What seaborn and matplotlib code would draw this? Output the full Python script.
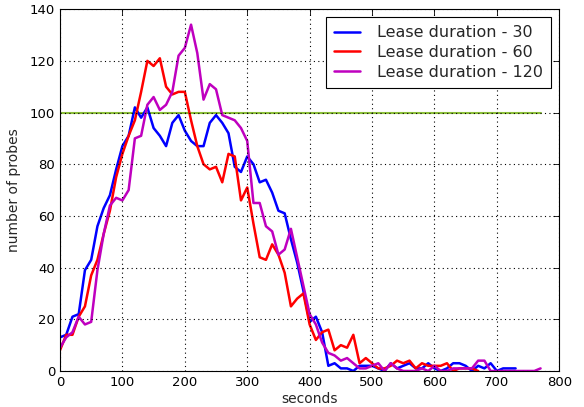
import numpy as np
import pandas as pd
import matplotlib
matplotlib.use("Agg")
import matplotlib.pyplot as plt
import seaborn as sns

# ---------------------------------------------------
# Daten (Schritt 10 s)
# ---------------------------------------------------
lease_30 = [13, 14, 21, 22, 39, 43, 56, 63, 68, 78,
            87, 91, 102, 98, 102, 94, 91, 87, 96, 99,
            93, 89, 87, 87, 96, 99, 96, 92, 79, 77,
            83, 80, 73, 74, 69, 62, 61, 51, 42, 31,
            19, 21, 15, 2, 3, 1, 1, 0, 2, 2,
            2, 1, 0, 3, 1, 2, 3, 1, 1, 3,
            1, 0, 1, 3, 3, 2, 0, 2, 1, 3,
            0, 1, 1, 1]
lease_60 = [8, 14, 14, 21, 25, 37, 43, 53, 62, 75,
            84, 91, 97, 108, 120, 118, 121, 110, 107, 108,
            108, 97, 87, 80, 78, 79, 73, 84, 83, 66,
            71, 57, 44, 43, 49, 45, 38, 25, 28, 30,
            18, 12, 15, 16, 8, 10, 9, 14, 3, 5,
            3, 1, 1, 2, 4, 3, 4, 1, 3, 2,
            2, 2, 3, 0, 1, 1, 1, 0]
lease_120 = [9, 13, 15, 21, 18, 19, 39, 53, 64, 67,
             66, 70, 90, 91, 103, 106, 101, 103, 108, 122,
             125, 134, 123, 105, 111, 109, 99, 98, 97, 94,
             89, 65, 65, 56, 54, 45, 47, 55, 44, 33,
             22, 18, 11, 7, 6, 4, 5, 3, 1, 1,
             2, 3, 0, 3, 1, 0, 0, 0, 1, 0,
             2, 0, 0, 1, 1, 1, 1, 4, 4, 0,
             0, 0, 0, 0, 0, 0, 0, 1]
series_names = ["Lease duration - 30", "Lease duration - 60", "Lease duration - 120"]
series_colors = ["#0000ff", "#ff0000", "#bf00bf"]
step = 10
threshold = 100

frames = []
for name, vals in zip(series_names, [lease_30, lease_60, lease_120]):
    frames.append(pd.DataFrame({
        "seconds": np.arange(len(vals)) * step,
        "probes": vals,
        "series": name,
    }))
df = pd.concat(frames, ignore_index=True)

# ---------------------------------------------------
# Plot
# ---------------------------------------------------
sns.set_style("white")
plt.rcParams["font.family"] = ["DejaVu Sans"]

fig = plt.figure(figsize=(5.84, 4.07), dpi=100)
ax = fig.add_axes([0.1027, 0.0885, 0.855, 0.889])

sns.lineplot(data=df, x="seconds", y="probes", hue="series",
             palette=dict(zip(series_names, series_colors)),
             linewidth=1.8, ax=ax, legend=False, zorder=2)

x_max = (len(lease_120) - 1) * step
ax.plot([0, x_max], [threshold, threshold], color="#8cbf3a", linewidth=1.5, zorder=1.5)

ax.set_xlim(0, 800)
ax.set_ylim(0, 140)
ax.set_xticks(range(0, 801, 100))
ax.set_yticks(range(0, 141, 20))
ax.grid(True, linestyle=(0, (1, 3)), color="black", linewidth=0.8)
ax.set_axisbelow(False)
ax.tick_params(direction="in", length=4, width=0.6, top=True, right=True,
               labelsize=9.5, colors="black")
for sp in ax.spines.values():
    sp.set_color("black")
    sp.set_linewidth(0.8)

ax.set_xlabel("seconds", fontsize=10, labelpad=2)
ax.set_ylabel("number of probes", fontsize=10, labelpad=6)

handles = [plt.Line2D([], [], color=c, linewidth=1.8) for c in series_colors]
leg = ax.legend(handles, series_names, loc="upper right", fontsize=11.5,
                handlelength=1.6, handletextpad=1.1, borderpad=0.5,
                labelspacing=0.3, fancybox=False, framealpha=1,
                edgecolor="black", borderaxespad=0.5)
leg.get_frame().set_linewidth(0.8)

plt.savefig("out.png", dpi=100)
